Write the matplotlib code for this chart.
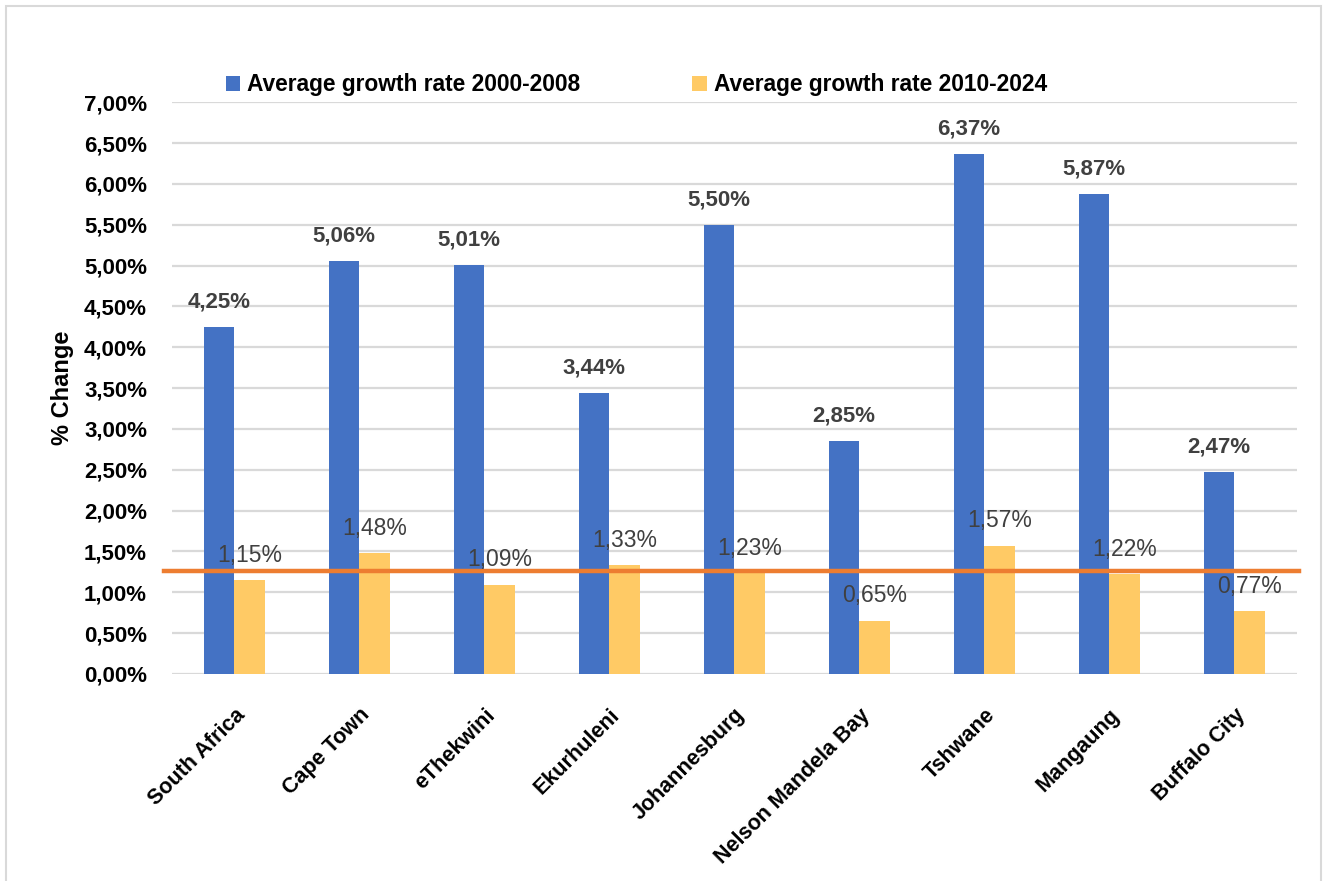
import numpy as np
import matplotlib
matplotlib.use("Agg")
import matplotlib.pyplot as plt
from matplotlib.patches import Rectangle

plt.rcParams["font.family"] = ["Liberation Sans", "DejaVu Sans"]

# data
cities = ["South Africa", "Cape Town", "eThekwini", "Ekurhuleni", "Johannesburg",
          "Nelson Mandela Bay", "Tshwane", "Mangaung", "Buffalo City"]
growth_2000_2008 = [4.25, 5.06, 5.01, 3.44, 5.50, 2.85, 6.37, 5.87, 2.47]
growth_2010_2024 = [1.15, 1.48, 1.09, 1.33, 1.23, 0.65, 1.57, 1.22, 0.77]
reference_line = 1.26
yticks = np.arange(0, 7.01, 0.5)

blue = "#4472C4"
gold = "#FFCA65"
orange = "#ED7D31"
grid = "#D9D9D9"
label_col = "#404040"

fig = plt.figure(figsize=(13.28, 8.81), dpi=100)
ax = fig.add_axes([0.1295, 0.235, 0.847, 0.649])

x = np.arange(len(cities))
w = 0.245
b1 = ax.bar(x - w / 2, growth_2000_2008, w, color=blue, zorder=2,
            label="Average growth rate 2000-2008")
b2 = ax.bar(x + w / 2, growth_2010_2024, w, color=gold, zorder=2,
            label="Average growth rate 2010-2024")

ax.axhline(reference_line, xmin=-0.007, xmax=1.002, color=orange, lw=3.2,
           zorder=3, clip_on=False)

for xi, v in zip(x, growth_2000_2008):
    ax.annotate(f"{v:.2f}%".replace(".", ","), (xi - w / 2, v), xytext=(0, 18),
                textcoords="offset points", ha="center", va="center",
                fontsize=16, fontweight="bold", color=label_col, zorder=4)
for xi, v in zip(x, growth_2010_2024):
    ax.annotate(f"{v:.2f}%".replace(".", ","), (xi + w / 2, v), xytext=(0, 18),
                textcoords="offset points", ha="center", va="center",
                fontsize=16.5, color=label_col, zorder=4)

ax.set_xlim(-0.5, len(cities) - 0.5)
ax.set_ylim(0, 7.0)
ax.set_yticks(yticks)
ax.set_yticklabels([f"{t:.2f}%".replace(".", ",") for t in yticks],
                   fontsize=16, fontweight="bold")
ax.set_xticks(x)
ax.set_xticklabels(cities, rotation=45, ha="right", rotation_mode="anchor",
                   fontsize=15.5, fontweight="bold")
ax.tick_params(axis="both", length=0)
ax.tick_params(axis="y", pad=18)
ax.tick_params(axis="x", pad=22)
ax.yaxis.grid(True, color=grid, lw=1.6, zorder=0)
ax.set_axisbelow(True)
for s in ["top", "right", "left", "bottom"]:
    ax.spines[s].set_visible(False)

fig.text(62 / 1328, 1 - 388 / 881, "% Change", rotation=90, ha="center",
         va="center", fontsize=17, fontweight="bold")

fig.legend(handles=[b1, b2], loc="center left", bbox_to_anchor=(205 / 1328, 1 - 85 / 881),
           ncol=2, frameon=False, prop={"size": 16.4, "weight": "bold"},
           handlelength=0.65, handleheight=0.65, handletextpad=0.3, columnspacing=4.9)

fig.patches.append(Rectangle((6 / 1328, -0.01), 1315 / 1328, 1.003, transform=fig.transFigure,
                             fill=False, edgecolor="#D9D9D9", lw=1.5))

fig.savefig("out.png", dpi=100)
